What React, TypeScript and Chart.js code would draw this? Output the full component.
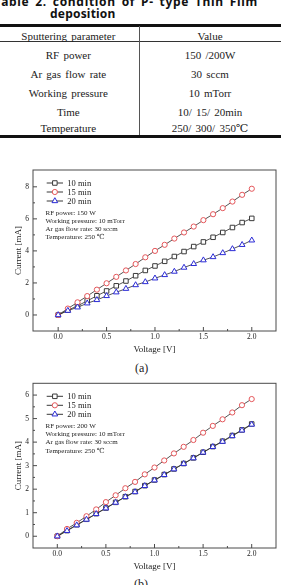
import React, { useEffect, useRef } from "react";
import { Chart, registerables } from "chart.js";

Chart.register(...registerables);

// Applied voltage steps (V)
const voltage = [0, 0.1, 0.2, 0.3, 0.4, 0.5, 0.6, 0.7, 0.8, 0.9, 1.0, 1.1, 1.2, 1.3, 1.4, 1.5, 1.6, 1.7, 1.8, 1.9, 2.0];

// (a) RF power 150 W — current (mA)
const tenMinA = [0, 0.3, 0.57, 0.88, 1.2, 1.5, 1.82, 2.12, 2.45, 2.78, 3.06, 3.35, 3.65, 3.96, 4.27, 4.56, 4.85, 5.15, 5.46, 5.77, 6.03];
const fifteenMinA = [0, 0.4, 0.79, 1.18, 1.58, 1.98, 2.38, 2.78, 3.18, 3.6, 4.0, 4.38, 4.77, 5.15, 5.52, 5.92, 6.29, 6.67, 7.08, 7.5, 7.88];
const twentyMinA = [0, 0.27, 0.48, 0.73, 0.94, 1.19, 1.42, 1.64, 1.87, 2.06, 2.29, 2.5, 2.71, 2.96, 3.19, 3.42, 3.62, 3.87, 4.12, 4.38, 4.66];

// (b) RF power 200 W — current (mA)
const tenMinB = [0, 0.24, 0.49, 0.72, 0.96, 1.2, 1.44, 1.68, 1.9, 2.15, 2.39, 2.62, 2.86, 3.09, 3.33, 3.57, 3.81, 4.04, 4.28, 4.52, 4.77];
const fifteenMinB = [0, 0.31, 0.57, 0.85, 1.14, 1.45, 1.74, 2.04, 2.31, 2.63, 2.92, 3.22, 3.52, 3.8, 4.09, 4.4, 4.69, 4.97, 5.26, 5.57, 5.83];
const twentyMinB = [0, 0.23, 0.47, 0.71, 0.95, 1.19, 1.43, 1.67, 1.88, 2.14, 2.38, 2.61, 2.85, 3.08, 3.32, 3.56, 3.8, 4.02, 4.26, 4.5, 4.75];

const seriesLabels = ["10 min", "15 min", "20 min"];

const xTicks = [0, 0.5, 1.0, 1.5, 2.0];
const xMinorTicks = [0.25, 0.75, 1.25, 1.75];
const yTicksA = [0, 2, 4, 6, 8];
const yMinorTicksA = [1, 3, 5, 7];
const yTicksB = [0, 1, 2, 3, 4, 5, 6];
const yMinorTicksB = [0.5, 1.5, 2.5, 3.5, 4.5, 5.5];

const notesA = ["RF power: 150 W", "Working pressure: 10 mTorr", "Ar gas flow rate: 30 sccm", "Temperature: 250 \u2103"];
const notesB = ["RF power: 200 W", "Working pressure: 10 mTorr", "Ar gas flow rate: 30 sccm", "Temperature: 250 \u2103"];

const tableHeader = ["Sputtering parameter", "Value"];
const tableParams = ["RF power", "Ar gas flow rate", "Working pressure", "Time", "Temperature"];
const tableValues = ["150 /200W", "30 sccm", "10 mTorr", "10/ 15/ 20min", "250/ 300/ 350\u2103"];

const SERIF = "'Liberation Serif', 'DejaVu Serif', serif";
const INK = "#222";

const markerStyles = [
  { color: "#3a3a3a", shape: "rect", radius: 3.2 },
  { color: "#e4565a", shape: "circle", radius: 2.6 },
  { color: "#2b2bd6", shape: "triangle", radius: 3.3 },
];

function drawMarker(ctx: CanvasRenderingContext2D, shape: string, x: number, y: number, r: number, color: string) {
  ctx.beginPath();
  if (shape === "rect") {
    const s = r * Math.SQRT1_2;
    ctx.rect(x - s, y - s, 2 * s, 2 * s);
  } else if (shape === "circle") {
    ctx.arc(x, y, r, 0, Math.PI * 2);
  } else {
    let a = 0;
    ctx.moveTo(x + Math.sin(a) * r, y - Math.cos(a) * r);
    a += (Math.PI * 2) / 3;
    ctx.lineTo(x + Math.sin(a) * r, y - Math.cos(a) * r);
    a += (Math.PI * 2) / 3;
    ctx.lineTo(x + Math.sin(a) * r, y - Math.cos(a) * r);
    ctx.closePath();
  }
  ctx.fillStyle = "#fff";
  ctx.fill();
  ctx.lineWidth = 1;
  ctx.strokeStyle = color;
  ctx.stroke();
}

type PanelSpec = {
  series: number[][];
  yMin: number;
  yMax: number;
  yTicks: number[];
  yMinor: number[];
  xMin: number;
  xMax: number;
  notes: string[];
  padTop: number;
};

function buildConfig(p: PanelSpec): any {
  const framePlugin = {
    id: "frameAndKey",
    afterDraw(chart: any) {
      const { ctx, chartArea: a, scales } = chart;
      const xs = scales.x;
      const ys = scales.y;
      ctx.save();
      // plot frame
      ctx.strokeStyle = "#4a4a4a";
      ctx.lineWidth = 1;
      ctx.strokeRect(a.left, a.top, a.right - a.left, a.bottom - a.top);
      // inward ticks
      ctx.beginPath();
      xTicks.forEach((v) => {
        const px = xs.getPixelForValue(v);
        ctx.moveTo(px, a.bottom);
        ctx.lineTo(px, a.bottom - 4);
      });
      xMinorTicks.forEach((v) => {
        const px = xs.getPixelForValue(v);
        ctx.moveTo(px, a.bottom);
        ctx.lineTo(px, a.bottom - 2);
      });
      p.yTicks.forEach((v) => {
        const py = ys.getPixelForValue(v);
        ctx.moveTo(a.left, py);
        ctx.lineTo(a.left + 4, py);
      });
      p.yMinor.forEach((v) => {
        const py = ys.getPixelForValue(v);
        ctx.moveTo(a.left, py);
        ctx.lineTo(a.left + 2, py);
      });
      ctx.stroke();

      // key
      ctx.font = `8.5px ${SERIF}`;
      ctx.textBaseline = "middle";
      ctx.textAlign = "left";
      seriesLabels.forEach((lab, i) => {
        const y = a.top + 13 + i * 9;
        const x0 = a.left + 13.7;
        const x1 = a.left + 30;
        ctx.beginPath();
        ctx.strokeStyle = "#222";
        ctx.lineWidth = 0.9;
        ctx.moveTo(x0, y);
        ctx.lineTo(x1, y);
        ctx.stroke();
        const m = markerStyles[i];
        drawMarker(ctx, m.shape, (x0 + x1) / 2, y, m.radius, m.color);
        ctx.fillStyle = INK;
        ctx.fillText(lab, a.left + 34.3, y + 0.5);
      });

      // deposition notes
      ctx.font = `7px ${SERIF}`;
      ctx.fillStyle = INK;
      p.notes.forEach((t, i) => {
        ctx.fillText(t, a.left + 12.5, a.top + 42.8 + i * 8.2);
      });
      ctx.restore();
    },
  };

  const order = [2, 1, 0];
  return {
    type: "scatter",
    data: {
      datasets: p.series.map((vals, i) => ({
        label: seriesLabels[i],
        data: voltage.map((v, j) => ({ x: v, y: vals[j] })),
        showLine: true,
        borderColor: "#2a2a2a",
        borderWidth: 0.8,
        pointStyle: markerStyles[i].shape,
        pointRadius: markerStyles[i].radius,
        pointBorderColor: markerStyles[i].color,
        pointBackgroundColor: "#fff",
        pointBorderWidth: 1,
        tension: 0,
        order: order[i],
      })),
    },
    options: {
      animation: false,
      responsive: false,
      events: [],
      layout: { padding: { top: p.padTop, right: 4.3, left: 0, bottom: 0 } },
      plugins: { legend: { display: false }, tooltip: { enabled: false } },
      scales: {
        x: {
          type: "linear",
          min: p.xMin,
          max: p.xMax,
          afterBuildTicks: (s: any) => {
            s.ticks = xTicks.map((v) => ({ value: v }));
          },
          afterFit: (s: any) => {
            s.height = 24;
          },
          grid: { display: false, drawTicks: false },
          border: { display: false },
          ticks: {
            padding: 2,
            autoSkip: false,
            maxRotation: 0,
            color: INK,
            font: { family: SERIF, size: 7.5 },
            callback: (v: any) => Number(v).toFixed(1),
          },
          title: {
            display: true,
            text: "Voltage [V]",
            color: INK,
            font: { family: SERIF, size: 9 },
            padding: { top: 0, bottom: 0 },
          },
        },
        y: {
          type: "linear",
          min: p.yMin,
          max: p.yMax,
          afterBuildTicks: (s: any) => {
            s.ticks = p.yTicks.map((v) => ({ value: v }));
          },
          afterFit: (s: any) => {
            s.width = 33;
          },
          grid: { display: false, drawTicks: false },
          border: { display: false },
          ticks: {
            padding: 4,
            color: INK,
            font: { family: SERIF, size: 7.5 },
            callback: (v: any) => String(v),
          },
          title: {
            display: true,
            text: "Current [mA]",
            color: INK,
            font: { family: SERIF, size: 9 },
            padding: { top: 13.5, bottom: 0 },
          },
        },
      },
    },
    plugins: [framePlugin],
  };
}

function Panel({ spec, top }: { spec: PanelSpec; top: number }) {
  const ref = useRef<HTMLCanvasElement | null>(null);
  useEffect(() => {
    if (!ref.current) return;
    const chart = new Chart(ref.current, buildConfig(spec));
    return () => chart.destroy();
  }, []);
  return (
    <canvas
      ref={ref}
      width={281}
      height={205}
      style={{ position: "absolute", left: 0, top, width: 281, height: 205 }}
    />
  );
}

const abs = (extra: React.CSSProperties): React.CSSProperties => ({ position: "absolute", ...extra });

export default function App() {
  const rowY = [55, 74, 93.3, 112.3, 128.3];
  const cell = (text: string, cx: number, cy: number, key: string) => (
    <div
      key={key}
      style={abs({
        left: cx - 70,
        width: 140,
        top: cy - 6.5,
        height: 13,
        lineHeight: "13px",
        textAlign: "center",
        fontFamily: SERIF,
        fontSize: 11,
        color: INK,
        whiteSpace: "nowrap",
        wordSpacing: 1.5,
      })}
    >
      {text}
    </div>
  );

  const caption: React.CSSProperties = {
    lineHeight: "12px",
    fontFamily: "'Noto Sans', sans-serif",
    fontWeight: 700,
    fontSize: 12,
    color: "#111",
    whiteSpace: "nowrap",
  };

  return (
    <div style={abs({ left: 0, top: 0, width: 281, height: 585, overflow: "hidden", background: "#fff" })}>
      {/* table caption */}
      <div style={abs({ ...caption, left: -5.5, top: -3.7, letterSpacing: 0.7, wordSpacing: 2 })}>
        Table 2. condition of P- type Thin Film
      </div>
      <div style={abs({ ...caption, left: 50, top: 7.5, letterSpacing: 0.2 })}>deposition</div>

      {/* table rules */}
      <div style={abs({ left: 0, width: 281, top: 24, height: 2.5, background: "#111" })} />
      <div style={abs({ left: 0, width: 281, top: 41, height: 1, background: "#333" })} />
      <div style={abs({ left: 0, width: 281, top: 135, height: 3, background: "#111" })} />
      <div style={abs({ left: 139, width: 1, top: 26, height: 109, background: "#555" })} />

      {cell(tableHeader[0], 68.3, 36, "h0")}
      {cell(tableHeader[1], 210, 36, "h1")}
      {tableParams.map((t, i) => cell(t, 68.3, rowY[i], "p" + i))}
      {tableValues.map((t, i) => cell(t, 210, rowY[i], "v" + i))}

      <Panel
        top={150}
        spec={{
          series: [tenMinA, fifteenMinA, twentyMinA],
          yMin: -1,
          yMax: 9.05,
          yTicks: yTicksA,
          yMinor: yMinorTicksA,
          xMin: -0.26,
          xMax: 2.25,
          notes: notesA,
          padTop: 20,
        }}
      />
      <div style={abs({ left: 121.7, width: 40, top: 361, textAlign: "center", fontFamily: SERIF, fontSize: 12, lineHeight: "14px", color: INK })}>
        (a)
      </div>

      <Panel
        top={367}
        spec={{
          series: [tenMinB, fifteenMinB, twentyMinB],
          yMin: -0.5,
          yMax: 6.5,
          yTicks: yTicksB,
          yMinor: yMinorTicksB,
          xMin: -0.25,
          xMax: 2.25,
          notes: notesB,
          padTop: 16.3,
        }}
      />
      <div style={abs({ left: 121, width: 40, top: 577, textAlign: "center", fontFamily: SERIF, fontSize: 12, lineHeight: "14px", color: INK })}>
        (b)
      </div>
    </div>
  );
}
